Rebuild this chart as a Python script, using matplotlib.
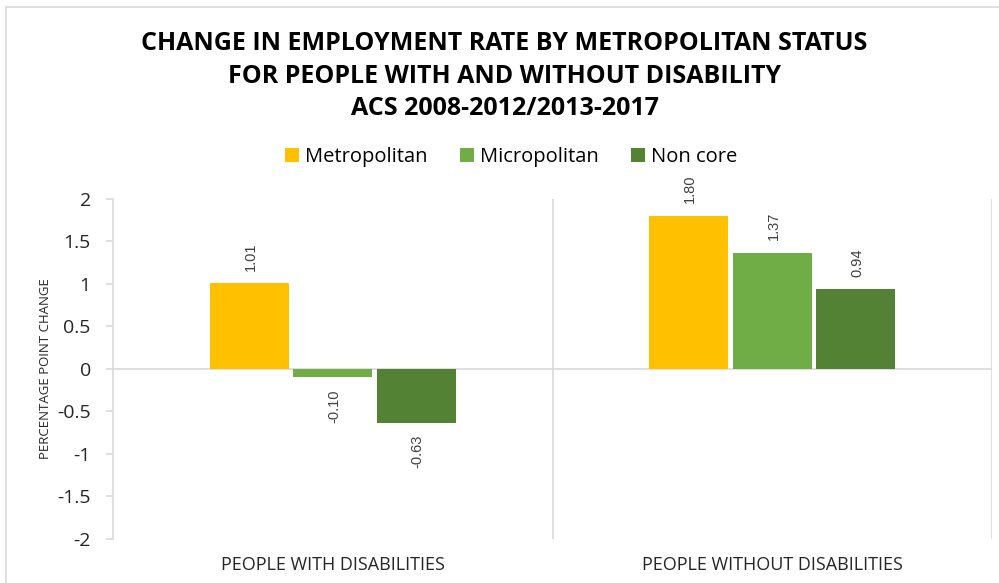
import matplotlib.pyplot as plt
from matplotlib.patches import Rectangle
import numpy as np

# data
groups = ['PEOPLE WITH DISABILITIES', 'PEOPLE WITHOUT DISABILITIES']
series = ['Metropolitan', 'Micropolitan', 'Non core']
metropolitan = [1.01, 1.80]
micropolitan = [-0.10, 1.37]
non_core = [-0.63, 0.94]
colors = ['#FFC000', '#70AD47', '#548235']

title = ('CHANGE IN EMPLOYMENT RATE BY METROPOLITAN STATUS\n'
         'FOR PEOPLE WITH AND WITHOUT DISABILITY\n'
         'ACS 2008-2012/2013-2017')

plt.rcParams['font.family'] = ['Open Sans', 'DejaVu Sans']

fig = plt.figure(figsize=(9.99, 5.83), dpi=100)
ax = fig.add_axes([0.1131, 0.0755, 0.880, 0.5832])

# light frame round the chart area
fig.patches.append(Rectangle((0.006, -0.02), 1.1, 1.008, transform=fig.transFigure,
                             fill=False, edgecolor='#d9d9d9', linewidth=1.2))

x = np.arange(len(groups))
width = 0.18
step = 0.19
grid_c = '#d9d9d9'

for i, (name, vals) in enumerate(zip(series, [metropolitan, micropolitan, non_core])):
    pos = x + (i - 1) * step
    bars = ax.bar(pos, vals, width, color=colors[i], label=name, zorder=3)
    for b, v in zip(bars, vals):
        if v >= 0:
            ax.annotate('%.2f' % v, (b.get_x() + b.get_width() / 2, v),
                        xytext=(1, 9), textcoords='offset points', rotation=90,
                        ha='center', va='bottom', fontsize=10.5, color='#404040',
                        family='Liberation Sans')
        else:
            ax.annotate('%.2f' % v, (b.get_x() + b.get_width() / 2, v),
                        xytext=(1, -9), textcoords='offset points', rotation=90,
                        ha='center', va='top', fontsize=10.5, color='#404040',
                        family='Liberation Sans')

ax.set_xlim(-0.5, 1.5)
ax.set_ylim(-2, 2)
ax.set_yticks(np.arange(-2, 2.01, 0.5))
ax.set_yticklabels(['-2', '-1.5', '-1', '-0.5', '0', '0.5', '1', '1.5', '2'])
ax.set_xticks(x)
ax.set_xticklabels(groups, fontsize=13, color='#262626')

ax.axhline(0, color=grid_c, linewidth=1.2, zorder=2)
for xv in [0.5, 1.5]:
    ax.axvline(xv, color=grid_c, linewidth=1.2, zorder=1)

for s in ['top', 'right', 'bottom']:
    ax.spines[s].set_visible(False)
ax.spines['left'].set_color(grid_c)
ax.spines['left'].set_linewidth(1.2)
ax.tick_params(axis='y', colors=grid_c, labelcolor='#262626', labelsize=14,
               length=5, width=1.2, pad=11)
ax.tick_params(axis='x', length=0, pad=12)

ax.set_ylabel('PERCENTAGE POINT CHANGE', fontsize=9.5, color='#262626', labelpad=4)

fig.text(0.505, 0.869, title, ha='center', va='center', fontsize=18,
         fontweight='bold', color='black', linespacing=1.4)

fig.legend(loc='center', bbox_to_anchor=(0.512, 0.731), ncol=3, frameon=False,
           fontsize=14.5, handlelength=0.7, handleheight=0.7, handletextpad=0.3,
           columnspacing=1.6)

fig.savefig('out.png', dpi=100)
